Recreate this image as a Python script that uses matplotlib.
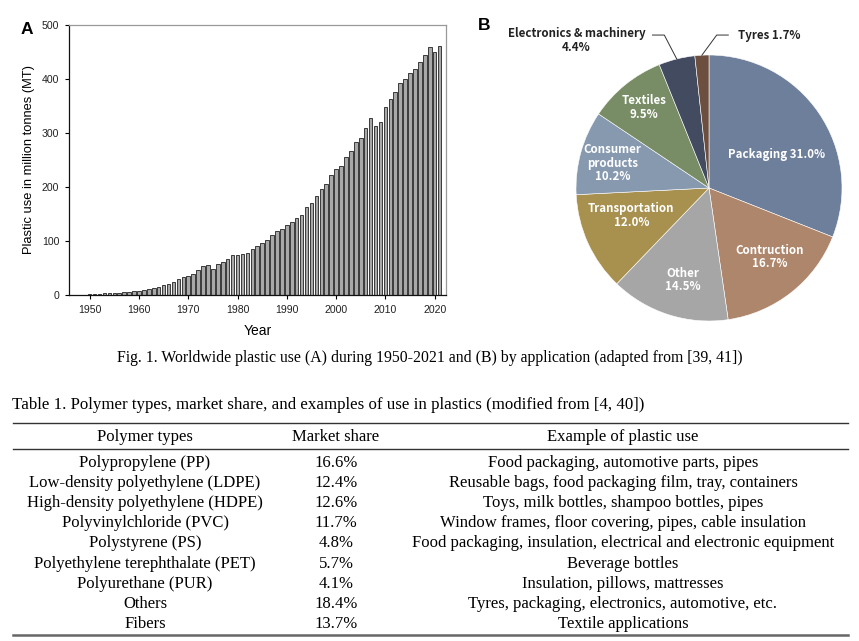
import matplotlib.pyplot as plt
import numpy as np
from matplotlib.lines import Line2D

# ---- data ----
years = np.arange(1950, 2022)
plastic_use = [2, 2, 2, 3, 3, 4, 4, 5, 5, 7,
               8, 9, 11, 13, 15, 18, 21, 24, 29, 34,
               36, 39, 46, 54, 55, 49, 57, 62, 67, 75,
               74, 76, 77, 85, 91, 96, 102, 111, 118, 122,
               129, 135, 142, 149, 163, 170, 183, 197, 205, 222,
               234, 239, 255, 266, 283, 291, 310, 328, 313, 320,
               349, 363, 376, 393, 400, 412, 419, 432, 445, 460,
               450, 461]

app_names = ['Packaging', 'Contruction', 'Other', 'Transportation',
             'Consumer\nproducts', 'Textiles', 'Electronics & machinery', 'Tyres']
app_share = [31.0, 16.7, 14.5, 12.0, 10.2, 9.5, 4.4, 1.7]
app_colors = ['#6E7F9B', '#AE866C', '#A6A6A6', '#A8904F',
              '#8699AF', '#788D66', '#424B5F', '#6C4F3F']

polymer_types = ['Polypropylene (PP)', 'Low-density polyethylene (LDPE)',
                 'High-density polyethylene (HDPE)', 'Polyvinylchloride (PVC)',
                 'Polystyrene (PS)', 'Polyethylene terephthalate (PET)',
                 'Polyurethane (PUR)', 'Others', 'Fibers']
market_share = ['16.6%', '12.4%', '12.6%', '11.7%', '4.8%', '5.7%', '4.1%', '18.4%', '13.7%']
plastic_examples = ['Food packaging, automotive parts, pipes',
                    'Reusable bags, food packaging film, tray, containers',
                    'Toys, milk bottles, shampoo bottles, pipes',
                    'Window frames, floor covering, pipes, cable insulation',
                    'Food packaging, insulation, electrical and electronic equipment',
                    'Beverage bottles',
                    'Insulation, pillows, mattresses',
                    'Tyres, packaging, electronics, automotive, etc.',
                    'Textile applications']

W, H = 859, 641
fig = plt.figure(figsize=(W / 100, H / 100), dpi=100)


def px_axes(x0, y0, x1, y1):
    # pixel box (top-left origin) -> figure axes
    return fig.add_axes([x0 / W, 1 - y1 / H, (x1 - x0) / W, (y1 - y0) / H])


sans = ['Liberation Sans', 'DejaVu Sans']
serif = ['Liberation Serif', 'DejaVu Serif']

# ---- A: bar chart ----
ax = px_axes(69, 25, 446, 295)
ax.bar(years, plastic_use, width=0.72, color='#A8A8A8', edgecolor='#222222', linewidth=0.6)
ax.set_xlim(1945.8, 2022.3)
ax.set_ylim(0, 500)
ax.set_xticks(range(1950, 2021, 10))
ax.set_yticks(range(0, 501, 100))
ax.tick_params(direction='out', length=3, width=0.8, labelsize=7.6, pad=4)
for lab in ax.get_xticklabels() + ax.get_yticklabels():
    lab.set_family(sans)
    lab.set_color('#222222')
ax.set_xlabel('Year', family=sans, fontsize=10, labelpad=7)
ax.set_ylabel('Plastic use in million tonnes (MT)', family=sans, fontsize=9.3, labelpad=5)
for s in ['left', 'bottom']:
    ax.spines[s].set_color('#111111')
    ax.spines[s].set_linewidth(0.9)
for s in ['top', 'right']:
    ax.spines[s].set_color('#999999')
    ax.spines[s].set_linewidth(0.9)
fig.text(21 / W, 1 - 29 / H, 'A', family=sans, fontsize=12.5, fontweight='bold', va='center')

# ---- B: pie chart ----
cx, cy, R = 709, 188, 133
pax = px_axes(470, 10, 859, 340)
wedges, _ = pax.pie(app_share, colors=app_colors, startangle=90, counterclock=False,
                    radius=1.0, wedgeprops=dict(edgecolor='white', linewidth=0.4))
pax.axis('off')
pax.set_aspect('auto')
pax.set_xlim((470 - cx) / R, (859 - cx) / R)
pax.set_ylim((cy - 340) / R, (cy - 10) / R)

pie_font = ['Noto Sans CJK KR', 'DejaVu Sans']
pie_fs = 8.3
# label radius and angle nudge for the inside labels
inside_pos = {0: (0.57, -8), 1: (0.69, 3), 2: (0.72, 2), 3: (0.62, -5),
              4: (0.75, 1), 5: (0.78, 0)}
for i, (w, name, val) in enumerate(zip(wedges, app_names, app_share)):
    mid = 0.5 * (w.theta1 + w.theta2)
    if i in inside_pos:
        r, da = inside_pos[i]
        a = np.deg2rad(mid + da)
        if i == 0:
            txt = f'{name} {val:.1f}%'
        else:
            txt = f'{name}\n{val:.1f}%'
        pax.text(r * np.cos(a), r * np.sin(a), txt, ha='center', va='center',
                 color='white', fontsize=pie_fs, fontweight='bold', family=pie_font,
                 linespacing=1.05)
    else:
        a = np.deg2rad(mid)
        x0, y0 = np.cos(a), np.sin(a)
        ey = 1.15
        if name.startswith('Electronics'):
            pax.plot([x0, -0.336, -0.425], [y0, ey, ey], color='#333333', lw=0.7, clip_on=False)
            pax.text(-0.996, 1.11, f'{name}\n{val:.1f}%', ha='center', va='center',
                     color='#222222', fontsize=pie_fs, fontweight='bold', family=pie_font,
                     linespacing=1.05)
        else:
            pax.plot([x0, 0.058, 0.145], [y0, ey, ey], color='#333333', lw=0.7, clip_on=False)
            pax.text(0.22, ey, f'{name} {val:.1f}%', ha='left', va='center',
                     color='#222222', fontsize=pie_fs, fontweight='bold', family=pie_font)
fig.text(478 / W, 1 - 26 / H, 'B', family=sans, fontsize=12.5, fontweight='bold', va='center')

# ---- captions ----
fig.text(430 / W, 1 - 358 / H,
         'Fig. 1. Worldwide plastic use (A) during 1950-2021 and (B) by application (adapted from [39, 41])',
         ha='center', va='center', family=serif, fontsize=11.3)
fig.text(12 / W, 1 - 405 / H,
         'Table 1. Polymer types, market share, and examples of use in plastics (modified from [4, 40])',
         ha='left', va='center', family=serif, fontsize=12.2)

# ---- table ----
x_left, x_right = 13, 848
col_x = [145, 336, 623]
fig.add_artist(Line2D([x_left / W, x_right / W], [1 - 423 / H] * 2, color='#333333', lw=1.0))
fig.add_artist(Line2D([x_left / W, x_right / W], [1 - 449 / H] * 2, color='#333333', lw=1.0))
fig.add_artist(Line2D([x_left / W, x_right / W], [1 - 635 / H] * 2, color='#666666', lw=1.8))
for x, head in zip(col_x, ['Polymer types', 'Market share', 'Example of plastic use']):
    fig.text(x / W, 1 - 437 / H, head, ha='center', va='center', family=serif, fontsize=12)
for i in range(len(polymer_types)):
    y = 1 - (463 + 20.1 * i) / H
    for x, col in zip(col_x, [polymer_types, market_share, plastic_examples]):
        fig.text(x / W, y, col[i], ha='center', va='center', family=serif, fontsize=12)

fig.savefig('out.png', dpi=100)
